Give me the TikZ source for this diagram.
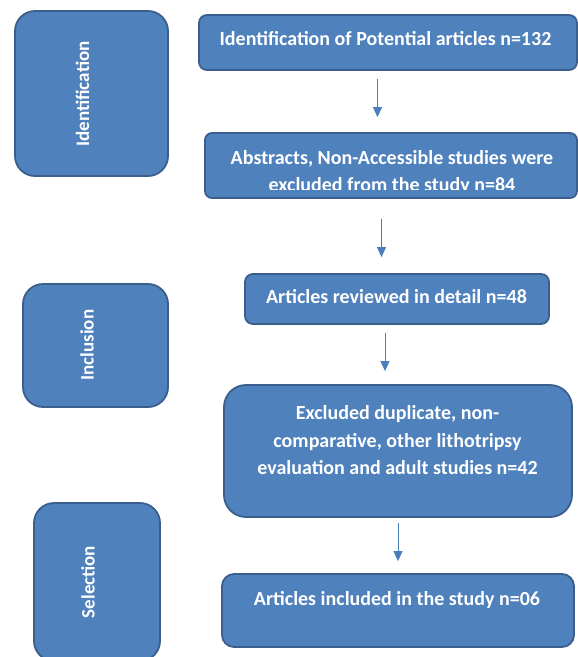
\documentclass[tikz,border=0pt]{standalone}
\usepackage{fontspec}
\setmainfont{Carlito}
\usetikzlibrary{arrows.meta}
\definecolor{boxfill}{HTML}{4F81BD}
\definecolor{boxline}{HTML}{3A5F8C}
\definecolor{arrowc}{HTML}{4A7EBB}
\begin{document}
\begin{tikzpicture}[x=1pt,y=-1pt,
  blk/.style={draw=boxline, fill=boxfill, line width=1.8pt, inner sep=0pt},
  txt/.style={text=white, font=\bfseries\fontsize{20}{27.5}\selectfont, align=center, inner sep=0pt},
  vtxt/.style={text=white, font=\bfseries\fontsize{19}{22}\selectfont, inner sep=0pt, rotate=90},
  arr/.style={draw=arrowc, line width=0.8pt, -{Triangle[length=10pt,width=9pt]}}]
\useasboundingbox (0,0) rectangle (578,657);
\clip (0,0) rectangle (578,657);
% stage boxes
\node[blk, rounded corners=20pt, minimum width=153pt, minimum height=165pt] (ident) at (91.5,93.5) {};
\node[vtxt] (identl) at (82.5,94) {Identification};
\node[blk, rounded corners=20pt, minimum width=145pt, minimum height=123pt] (incl) at (95.5,345.5) {};
\node[vtxt] (incll) at (87,345) {Inclusion};
\node[blk, rounded corners=20pt, minimum width=126pt, minimum height=158pt] (sel) at (97,582) {};
\node[vtxt] (sell) at (88,582) {Selection};
% flow boxes
\node[blk, rounded corners=8pt, minimum width=378pt, minimum height=55pt] (b1) at (388,42.5) {};
\node[txt] (t1) at (385.5,39) {Identification of Potential articles n=132};
\node[blk, rounded corners=7pt, minimum width=372pt, minimum height=65pt] (b2) at (391,165.5) {};
\begin{scope}
  \clip (205,133) rectangle (577,189);
  \node[txt] (t2) at (392,172.5) {Abstracts, Non-Accessible studies were\\excluded from the study n=84};
\end{scope}
\node[blk, rounded corners=8pt, minimum width=304pt, minimum height=50pt] (b3) at (397,299) {};
\node[txt] (t3) at (396.5,297) {Articles reviewed in detail n=48};
\node[blk, rounded corners=22pt, minimum width=348pt, minimum height=132pt] (b4) at (398,451) {};
\node[txt] (t4) at (397.5,440.5) {Excluded duplicate, non-\\comparative, other lithotripsy\\evaluation and adult studies n=42};
\node[blk, rounded corners=12pt, minimum width=352pt, minimum height=73pt] (b5) at (398,610.5) {};
\node[txt] (t5) at (397,600) {Articles included in the study n=06};
% arrows
\coordinate (x1) at (377.5,0);
\coordinate (x2) at (381.5,0);
\coordinate (x3) at (385,0);
\coordinate (x4) at (398,0);
\draw[arr, shorten <=8pt, shorten >=15pt] (b1.south -| x1) -- (b2.north -| x1);
\draw[arr, shorten <=20pt, shorten >=16pt] (b2.south -| x2) -- (b3.north -| x2);
\draw[arr, shorten <=8pt, shorten >=13pt] (b3.south -| x3) -- (b4.north -| x3);
\draw[arr, shorten <=5pt, shorten >=12pt] (b4.south -| x4) -- (b5.north -| x4);
\end{tikzpicture}
\end{document}
